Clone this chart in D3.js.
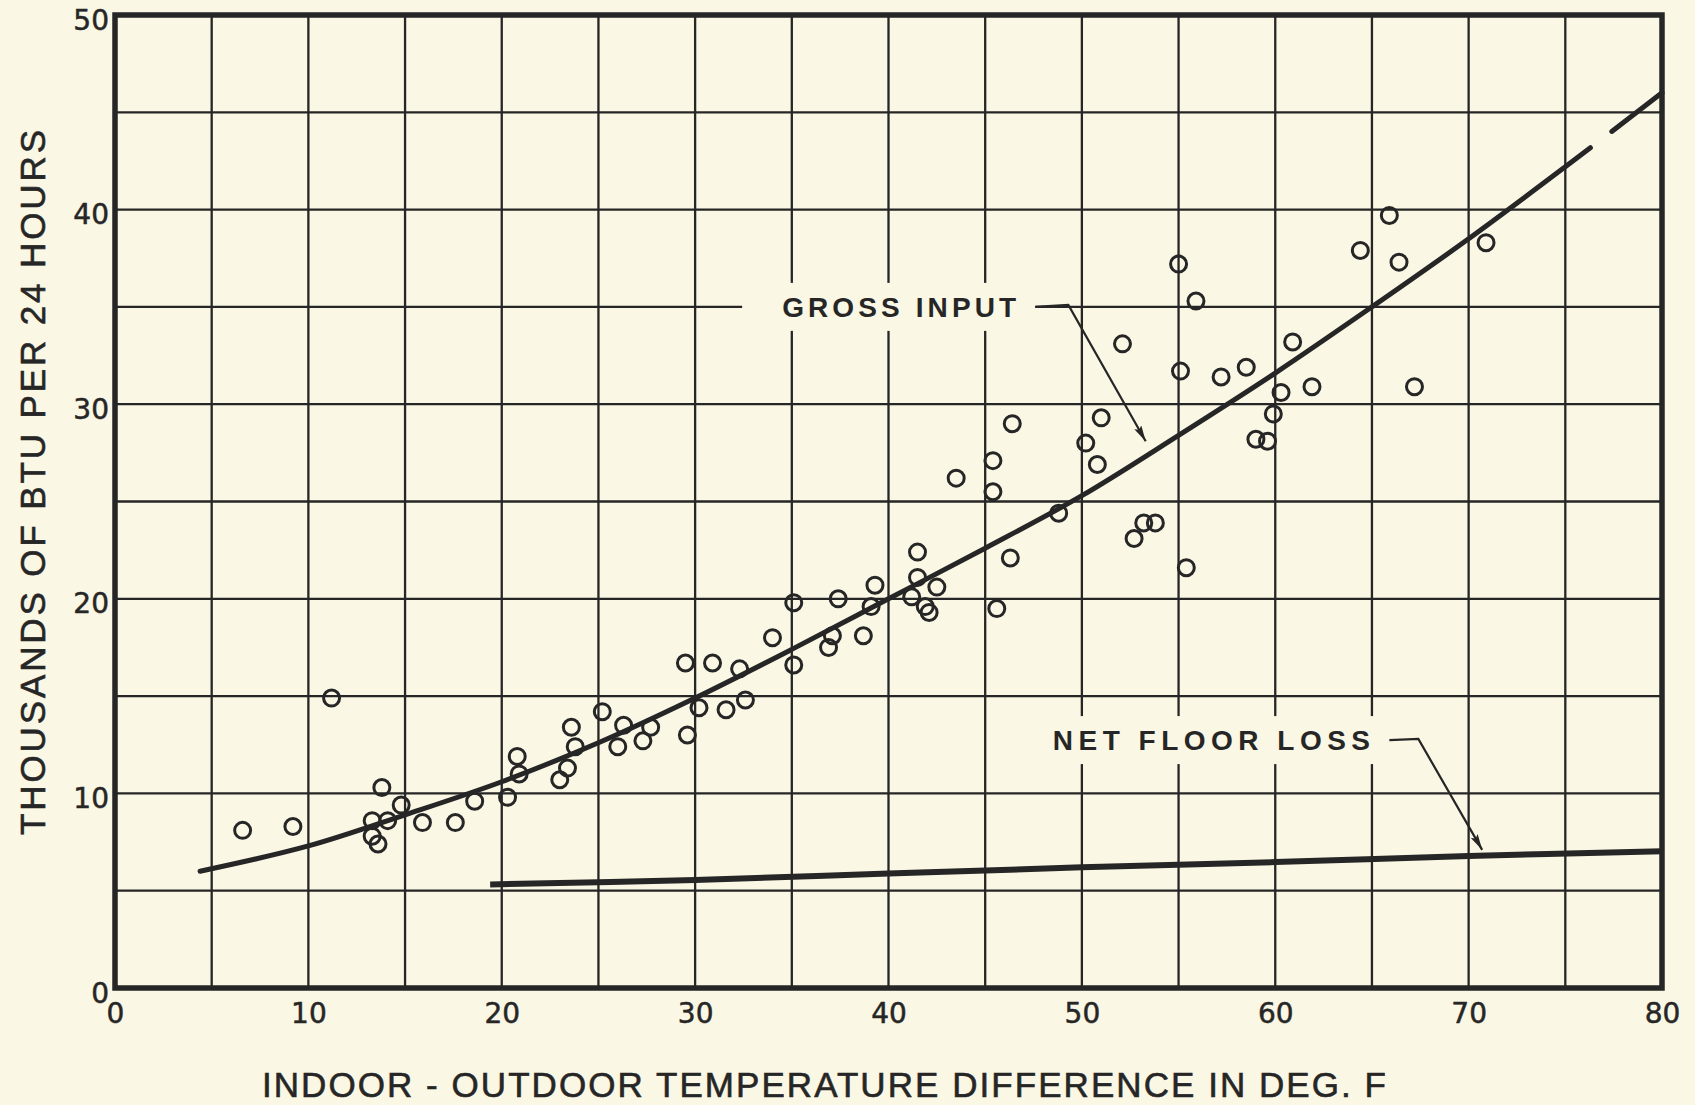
<!DOCTYPE html>
<html>
<head>
<meta charset="utf-8">
<script src="https://cdn.jsdelivr.net/npm/d3@7"></script>
<style>
  html, body { margin: 0; padding: 0; background: #faf7e4; }
  svg { display: block; }
  text { font-family: 'Liberation Sans', Arial, sans-serif; fill: #262626; }
</style>
</head>
<body>
<div id="chart"></div>
<script>
// observed daily points: temperature difference (deg F) vs thousands of BTU / 24 h
const obsTemp = [6.6, 9.2, 11.2, 13.3, 13.3, 13.6, 13.8, 14.1, 14.8, 15.9, 17.6, 18.6,
  20.3, 20.8, 20.9, 23.0, 23.4, 23.6, 23.8, 25.2, 26.0, 26.3, 27.3, 27.7,
  29.5, 29.6, 30.2, 30.9, 31.6, 32.3, 32.6, 34.0, 35.1, 35.1, 36.9, 37.1, 37.4,
  38.7, 39.1, 39.3, 41.2, 41.5, 41.5, 41.9, 42.1, 42.5, 43.5, 45.4, 45.4, 45.6,
  46.3, 46.4, 48.8, 50.2, 50.8, 51.0, 52.1, 52.7, 53.2, 53.8, 55.0, 55.1, 55.4,
  55.9, 57.2, 58.5, 59.0, 59.6, 59.9, 60.3, 60.9, 61.9, 64.4, 65.9, 66.4, 67.2, 70.9];
const obsBtu = [8.1, 8.3, 14.9, 8.6, 7.8, 7.4, 10.3, 8.6, 9.4, 8.5, 8.5, 9.6,
  9.8, 11.9, 11.0, 10.7, 11.3, 13.4, 12.4, 14.2, 12.4, 13.5, 12.7, 13.4,
  16.7, 13.0, 14.4, 16.7, 14.3, 16.4, 14.8, 18.0, 19.8, 16.6, 17.5, 18.1, 20.0,
  18.1, 19.6, 20.7, 20.1, 22.4, 21.1, 19.6, 19.3, 20.6, 26.2, 27.1, 25.5, 19.5,
  22.1, 29.0, 24.4, 28.0, 26.9, 29.3, 33.1, 23.1, 23.9, 23.9, 37.2, 31.7, 21.6,
  35.3, 31.4, 31.9, 28.2, 28.1, 29.5, 30.6, 33.2, 30.9, 37.9, 39.7, 37.3, 30.9, 38.3];

// fitted curves
const grossTemp = [4.4, 10, 15, 20, 25, 30, 35, 40, 45, 50, 55, 60, 65, 70, 75, 80];
const grossBtu = [6.0, 7.3, 8.9, 10.6, 12.6, 14.9, 17.4, 20.0, 22.6, 25.3, 28.4, 31.6, 35.0, 38.5, 42.2, 46.0];
const grossGap = [76.3, 77.4]; // break before the extrapolated end dash

const netTemp = [19.4, 30, 40, 50, 60, 70, 80];
const netBtu = [5.32, 5.55, 5.88, 6.2, 6.47, 6.78, 7.03];

const xTicks = [0, 10, 20, 30, 40, 50, 60, 70, 80];
const yTicks = [0, 10, 20, 30, 40, 50];

const width = 1695;
const height = 1105;
const ink = '#262626';
const paper = '#faf7e4';

const x = d3.scaleLinear().domain([0, 80]).range([115, 1662]);
const y = d3.scaleLinear().domain([0, 50]).range([988, 15]);

const svg = d3.select('#chart')
  .append('svg')
  .attr('width', width)
  .attr('height', height);

svg.append('rect').attr('width', width).attr('height', height).attr('fill', paper);

svg.append('defs').append('marker')
  .attr('id', 'arrow')
  .attr('viewBox', '0 0 16 8')
  .attr('refX', 16)
  .attr('refY', 4)
  .attr('markerUnits', 'userSpaceOnUse')
  .attr('markerWidth', 16)
  .attr('markerHeight', 8)
  .attr('orient', 'auto')
  .append('path')
  .attr('d', 'M0,0L16,4L0,8L3,4Z')
  .attr('fill', ink);

// grid every 5 units
const grid = svg.append('g').attr('stroke', ink).attr('stroke-width', 2.3);
grid.selectAll('.vgrid')
  .data(d3.range(5, 80, 5))
  .join('line')
  .attr('x1', (d) => x(d)).attr('x2', (d) => x(d))
  .attr('y1', y(0)).attr('y2', y(50));
grid.selectAll('.hgrid')
  .data(d3.range(5, 50, 5))
  .join('line')
  .attr('x1', x(0)).attr('x2', x(80))
  .attr('y1', (d) => y(d)).attr('y2', (d) => y(d));

// axes (labels only)
const xAxis = svg.append('g')
  .attr('transform', `translate(0,${y(0)})`)
  .call(d3.axisBottom(x).tickValues(xTicks).tickSize(0).tickPadding(15));
const yAxis = svg.append('g')
  .attr('transform', `translate(${x(0)},0)`)
  .call(d3.axisLeft(y).tickValues(yTicks).tickSize(0).tickPadding(6));
[xAxis, yAxis].forEach((g) => {
  g.select('.domain').remove();
  g.selectAll('text')
    .style('font-family', "'DejaVu Sans', sans-serif")
    .style('font-size', '28px')
    .attr('fill', ink)
    .attr('stroke', ink)
    .attr('stroke-width', 0.5);
});
yAxis.selectAll('text').attr('dy', '0.5em');

// annotation labels with paper behind them, breaking the grid
function note(label, x0, x1, yv) {
  const g = svg.append('g');
  g.append('rect')
    .attr('x', x(x0) - 40)
    .attr('y', y(yv) - 24)
    .attr('width', x(x1) - x(x0) + 59)
    .attr('height', 48)
    .attr('fill', paper);
  g.append('text')
    .attr('x', x(x0))
    .attr('y', y(yv))
    .attr('dy', '0.36em')
    .attr('font-size', 28)
    .attr('font-weight', 'bold')
    .attr('textLength', x(x1) - x(x0))
    .attr('lengthAdjust', 'spacing')
    .text(label);
}
note('GROSS INPUT', 34.5, 46.6, 35);
note('NET FLOOR LOSS', 48.5, 64.9, 12.74);

const leader = d3.line().x((d) => x(d[0])).y((d) => y(d[1]));
svg.append('path')
  .attr('d', leader([[47.6, 35], [49.3, 35.1], [53.3, 28.1]]))
  .attr('fill', 'none').attr('stroke', ink).attr('stroke-width', 2.2)
  .attr('marker-end', 'url(#arrow)');
svg.append('path')
  .attr('d', leader([[65.9, 12.74], [67.4, 12.8], [70.7, 7.1]]))
  .attr('fill', 'none').attr('stroke', ink).attr('stroke-width', 2.2)
  .attr('marker-end', 'url(#arrow)');

// curves
const curve = d3.line()
  .x((d) => x(d[0]))
  .y((d) => y(d[1]))
  .curve(d3.curveCatmullRom);

const grossPath = svg.append('path')
  .attr('d', curve(d3.zip(grossTemp, grossBtu)))
  .attr('fill', 'none')
  .attr('stroke', ink)
  .attr('stroke-width', 5)
  .attr('stroke-linecap', 'round');

const node = grossPath.node();
const total = node.getTotalLength();
function lengthAtX(xv) {
  let lo = 0, hi = total;
  for (let k = 0; k < 40; k++) {
    const mid = (lo + hi) / 2;
    if (node.getPointAtLength(mid).x < x(xv)) lo = mid; else hi = mid;
  }
  return lo;
}
const l1 = lengthAtX(grossGap[0]);
const l2 = lengthAtX(grossGap[1]);
grossPath.attr('stroke-dasharray', `${l1} ${l2 - l1} ${total}`);

svg.append('path')
  .attr('d', curve(d3.zip(netTemp, netBtu)))
  .attr('fill', 'none')
  .attr('stroke', ink)
  .attr('stroke-width', 6);

// observations
svg.append('g')
  .selectAll('circle')
  .data(d3.zip(obsTemp, obsBtu))
  .join('circle')
  .attr('cx', (d) => x(d[0]))
  .attr('cy', (d) => y(d[1]))
  .attr('r', 8)
  .attr('fill', 'none')
  .attr('stroke', ink)
  .attr('stroke-width', 3);

// frame
svg.append('rect')
  .attr('x', x(0)).attr('y', y(50))
  .attr('width', x(80) - x(0)).attr('height', y(0) - y(50))
  .attr('fill', 'none').attr('stroke', ink).attr('stroke-width', 5.5);

// axis titles
svg.append('text')
  .attr('x', 262)
  .attr('y', 1097)
  .attr('font-size', 35)
  .attr('stroke', ink)
  .attr('stroke-width', 0.6)
  .attr('textLength', 1386 - 262)
  .attr('lengthAdjust', 'spacing')
  .text('INDOOR - OUTDOOR TEMPERATURE DIFFERENCE IN DEG. F');

svg.append('text')
  .attr('transform', 'translate(45,835) rotate(-90)')
  .attr('font-size', 35)
  .attr('stroke', ink)
  .attr('stroke-width', 0.6)
  .attr('textLength', 835 - 130)
  .attr('lengthAdjust', 'spacing')
  .text('THOUSANDS OF BTU PER 24 HOURS');
</script>
</body>
</html>
